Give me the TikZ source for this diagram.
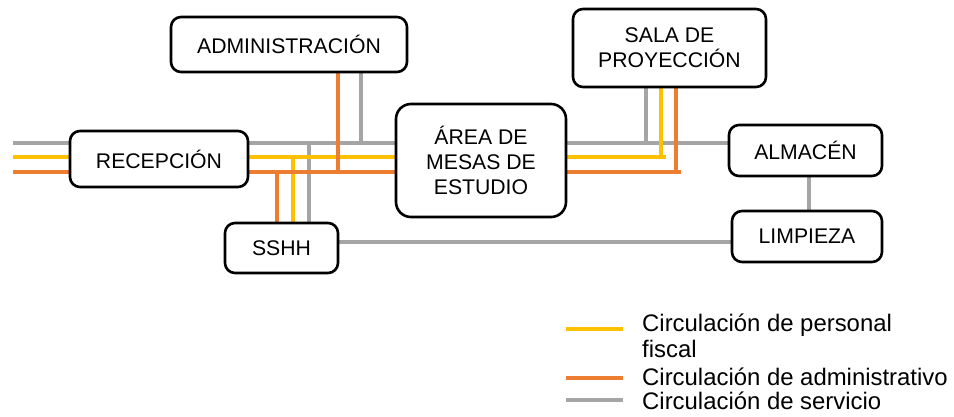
\documentclass[tikz,border=0pt]{standalone}
\usepackage{fontspec}
\setmainfont{Liberation Sans}
\usetikzlibrary{backgrounds}
\definecolor{gris}{HTML}{A5A5A5}
\definecolor{amarillo}{HTML}{FFC000}
\definecolor{naranja}{HTML}{ED7D31}
\tikzset{
  ambiente/.style={draw, line width=2.6pt, rounded corners=10pt, fill=white,
    align=center, inner sep=0pt, font=\fontsize{21.2}{25}\selectfont},
  servicio/.style={gris, line width=3.6pt},
  fiscal/.style={amarillo, line width=3.6pt},
  administrativo/.style={naranja, line width=3.6pt},
  leyenda/.style={anchor=base west, align=left, inner sep=0pt,
    font=\fontsize{23.9}{26}\selectfont}
}

\begin{document}
\begin{tikzpicture}[x=1pt, y=-1pt]
    \useasboundingbox (0,0) rectangle (954,416);

      % ambientes
      \node[ambiente, minimum width=236pt, minimum height=55pt] (admin) at (289,44.5) {ADMINISTRACIÓN};
      \node[ambiente, minimum width=193pt, minimum height=78pt] (sala) at (669.5,48) {SALA DE\\PROYECCIÓN};
      \node[ambiente, minimum width=178pt, minimum height=56pt] (recepcion) at (159,159) {RECEPCIÓN};
      \node[ambiente, minimum width=170pt, minimum height=113pt, rounded corners=15pt] (area) at (481,160.5) {ÁREA DE\\MESAS DE\\ESTUDIO};
      \node[ambiente, minimum width=153pt, minimum height=51pt] (almacen) at (805.5,150.5) {ALMACÉN};
      \node[ambiente, minimum width=150pt, minimum height=51pt] (limpieza) at (807,236.5) {LIMPIEZA};
      \node[ambiente, minimum width=113pt, minimum height=50pt] (sshh) at (281.5,248) {SSHH};

      % niveles de las circulaciones
      \coordinate (ys) at (13,143);
      \coordinate (yf) at (13,157);
      \coordinate (ya) at (13,172);
      \coordinate (yl) at (0,242);
      % bajadas
      \coordinate (xa1) at (338,0);
      \coordinate (xs1) at (361,0);
      \coordinate (xa2) at (277,0);
      \coordinate (xf2) at (293,0);
      \coordinate (xs2) at (309,0);
      \coordinate (xs3) at (646,0);
      \coordinate (xf3) at (661,0);
      \coordinate (xa3) at (676,0);
      \coordinate (xs4) at (809,0);

    \begin{pgfonlayer}{background}
      % circulacion de servicio
      \draw[servicio] (ys) -- (ys -| almacen.west);
      \draw[servicio] (admin.south -| xs1) -- (ys -| xs1);
      \draw[servicio] (sala.south -| xs3) -- (ys -| xs3);
      \draw[servicio] (ys -| xs2) -- (sshh.north -| xs2);
      \draw[servicio] (sshh.east |- yl) -- (limpieza.west |- yl);
      \draw[servicio] (almacen.south -| xs4) -- (limpieza.north -| xs4);

      % circulacion de personal fiscal
      \draw[fiscal] (yf) -- ([xshift=5pt]yf -| xf3);
      \draw[fiscal] (sala.south -| xf3) -- (yf -| xf3);
      \draw[fiscal] (yf -| xf2) -- (sshh.north -| xf2);

      % circulacion de administrativo
      \draw[administrativo] (ya) -- ([xshift=5pt]ya -| xa3);
      \draw[administrativo] (sala.south -| xa3) -- (ya -| xa3);
      \draw[administrativo] (admin.south -| xa1) -- (ya -| xa1);
      \draw[administrativo] (ya -| xa2) -- (sshh.north -| xa2);
    \end{pgfonlayer}

      % leyenda
      \foreach \estilo/\y/\base/\texto in {
        fiscal/329/357/{Circulación de personal\\fiscal},
        administrativo/378/385/{Circulación de administrativo},
        servicio/400/409/{Circulación de servicio}
      }{
        \draw[\estilo] (566,\y) -- (623,\y);
        \node[leyenda] (ley-\estilo) at (642,\base) {\texto};
      }

\end{tikzpicture}
\end{document}
